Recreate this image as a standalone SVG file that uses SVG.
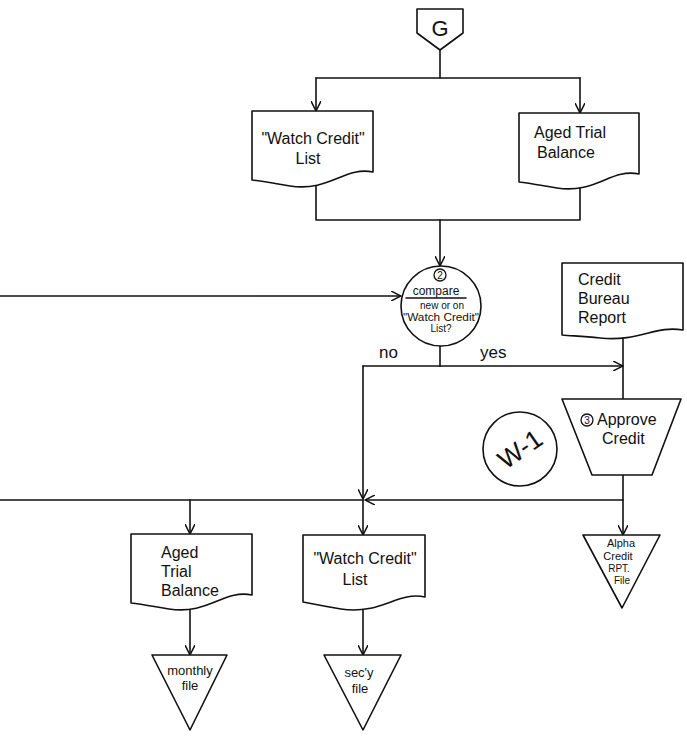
<svg xmlns="http://www.w3.org/2000/svg" width="687" height="741" viewBox="0 0 687 741">
  <style>
    .ln { fill: none; stroke: #111; stroke-width: 1.6; stroke-linecap: round; stroke-linejoin: round; }
    .shape { fill: #fff; stroke: #111; stroke-width: 1.6; stroke-linejoin: round; }
    .t { font-family: "Liberation Sans", "DejaVu Sans", sans-serif; fill: #111; }
    .t16 { font-size: 16px; }
    .t13 { font-size: 13px; }
    .t11 { font-size: 11px; }
    .t10 { font-size: 10px; }
  </style>
  <defs>
    <marker id="arr" viewBox="0 0 10 10" refX="10" refY="5" markerWidth="10" markerHeight="10" markerUnits="userSpaceOnUse" orient="auto">
      <path d="M0,0 L10,5 L0,10" fill="none" stroke="#111" stroke-width="1.5"/>
    </marker>
  </defs>

  <rect width="687" height="741" fill="#fff"/>

  <!-- connectors -->
  <g id="connectors" class="ln">
    <path d="M440,50 V78"/>
    <path d="M316,78 H580"/>
    <path d="M316,78 V111" marker-end="url(#arr)"/>
    <path d="M580,78 V113" marker-end="url(#arr)"/>
    <path d="M316,180 V220 H580 V178"/>
    <path d="M440,220 V266" marker-end="url(#arr)"/>
    <path d="M0,296 H401" marker-end="url(#arr)"/>
    <path d="M440,346 V366"/>
    <path d="M363,366 H440"/>
    <path d="M440,366 H623" marker-end="url(#arr)"/>
    <path d="M623,330 V399"/>
    <path d="M363,366 V499" marker-end="url(#arr)"/>
    <path d="M623,500 H365" marker-end="url(#arr)"/>
    <path d="M0,500 H363"/>
    <path d="M363,500 V535" marker-end="url(#arr)"/>
    <path d="M190,500 V534" marker-end="url(#arr)"/>
    <path d="M623,475 V535" marker-end="url(#arr)"/>
    <path d="M190,605 V655" marker-end="url(#arr)"/>
    <path d="M363,605 V655" marker-end="url(#arr)"/>
  </g>

  <!-- off-page connector G -->
  <g id="node-g">
    <path class="shape" d="M417,9 H463 V33 L440,50 L417,33 Z"/>
    <text class="t" x="440" y="36" font-size="22" text-anchor="middle">G</text>
  </g>

  <!-- Watch Credit list (input) -->
  <g id="node-watch-list-in">
    <path class="shape" d="M252,111 H373 V172 C345,166 330,192 290,186 C272,183 262,181 252,180 Z"/>
    <text class="t t16" x="313" y="144" text-anchor="middle">"Watch Credit"</text>
    <text class="t t16" x="308" y="164" text-anchor="middle">List</text>
  </g>

  <!-- Aged Trial Balance (input) -->
  <g id="node-aged-in">
    <path class="shape" d="M519,113 H639 V174 C611,168 596,194 557,188 C539,185 529,183 519,182 Z"/>
    <text class="t t16" x="534" y="138">Aged Trial</text>
    <text class="t t16" x="537" y="158">Balance</text>
  </g>

  <!-- Compare decision -->
  <g id="node-compare">
    <circle class="shape" cx="441" cy="306" r="40"/>
    <circle cx="440" cy="275" r="6" fill="none" stroke="#111" stroke-width="1.3"/>
    <text class="t" x="440" y="279" font-size="10" text-anchor="middle">2</text>
    <text class="t" x="436" y="295" font-size="12" text-anchor="middle">compare</text>
    <path d="M406,298 H466" class="ln" stroke-width="1.2"/>
    <text class="t t10" x="442" y="309" text-anchor="middle">new or on</text>
    <text class="t t10" x="441" y="320.5" text-anchor="middle" textLength="76" lengthAdjust="spacingAndGlyphs">"Watch Credit"</text>
    <text class="t t10" x="441" y="332" text-anchor="middle">List?</text>
  </g>

  <!-- branch labels -->
  <g id="labels">
    <text class="t" x="379" y="358" font-size="17">no</text>
    <text class="t" x="480" y="358" font-size="17">yes</text>
  </g>

  <!-- Credit Bureau Report -->
  <g id="node-bureau">
    <path class="shape" d="M562,263 H683 V330 C655,325 640,342 600,338 C582,336 572,336 562,335 Z"/>
    <text class="t t16" x="578" y="285">Credit</text>
    <text class="t t16" x="578" y="304">Bureau</text>
    <text class="t t16" x="578" y="323">Report</text>
  </g>

  <!-- Approve Credit manual operation -->
  <g id="node-approve">
    <path class="shape" d="M562,399 H681 L652,475 H592 Z"/>
    <circle cx="587" cy="420" r="6" fill="none" stroke="#111" stroke-width="1.3"/>
    <text class="t" x="587" y="424" font-size="10" text-anchor="middle">3</text>
    <text class="t t16" x="597" y="425">Approve</text>
    <text class="t t16" x="602" y="444">Credit</text>
  </g>

  <!-- W-1 reference circle -->
  <g id="node-w1">
    <circle class="shape" cx="520" cy="449" r="37"/>
    <text class="t" x="520" y="458" font-size="26" text-anchor="middle" transform="rotate(-35 520 449)">W-1</text>
  </g>

  <!-- Aged Trial Balance (output) -->
  <g id="node-aged-out">
    <path class="shape" d="M131,534 H252 V595 C224,589 209,615 169,609 C151,606 141,604 131,603 Z"/>
    <text class="t t16" x="161" y="558">Aged</text>
    <text class="t t16" x="161" y="577">Trial</text>
    <text class="t t16" x="161" y="596">Balance</text>
  </g>

  <!-- Watch Credit list (output) -->
  <g id="node-watch-list-out">
    <path class="shape" d="M303,535 H425 V597 C397,591 382,615 341,609 C323,606 313,604 303,602 Z"/>
    <text class="t t16" x="365" y="564" text-anchor="middle">"Watch Credit"</text>
    <text class="t t16" x="355" y="585" text-anchor="middle">List</text>
  </g>

  <!-- monthly file -->
  <g id="node-monthly-file">
    <path class="shape" d="M152,655 H227 L190,730 Z"/>
    <text class="t t13" x="190" y="675" text-anchor="middle">monthly</text>
    <text class="t t13" x="190" y="690" text-anchor="middle">file</text>
  </g>

  <!-- sec'y file -->
  <g id="node-secy-file">
    <path class="shape" d="M324,655 H401 L363,730 Z"/>
    <text class="t t13" x="359" y="677" text-anchor="middle">sec'y</text>
    <text class="t t13" x="360" y="693" text-anchor="middle">file</text>
  </g>

  <!-- Alpha Credit RPT. File -->
  <g id="node-alpha-file">
    <path class="shape" d="M583,535 H660 L622,608 Z"/>
    <text class="t t11" x="621" y="547" text-anchor="middle">Alpha</text>
    <text class="t t11" x="618" y="559.5" text-anchor="middle">Credit</text>
    <text class="t t10" x="619" y="572" text-anchor="middle">RPT.</text>
    <text class="t t10" x="622" y="584" text-anchor="middle">File</text>
  </g>
</svg>
